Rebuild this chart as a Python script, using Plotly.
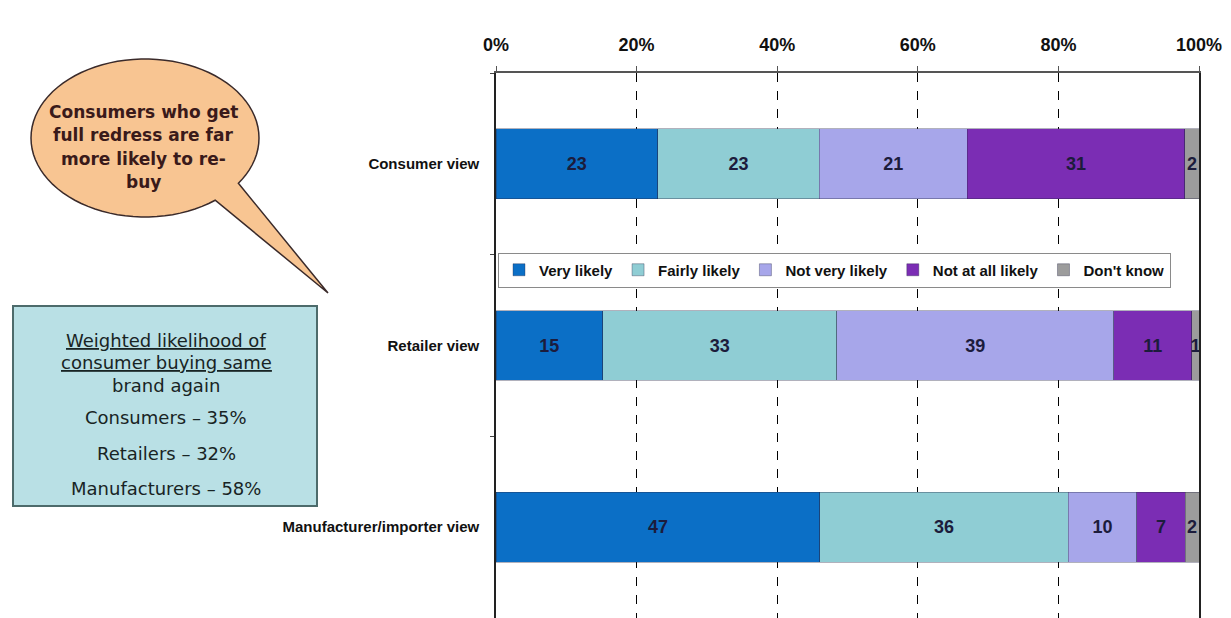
import plotly.graph_objects as go
import math

categories = ["Consumer view", "Retailer view", "Manufacturer/importer view"]
series_names = ["Very likely", "Fairly likely", "Not very likely", "Not at all likely", "Don't know"]
very_likely = [23, 15, 47]
fairly_likely = [23, 33, 36]
not_very_likely = [21, 39, 10]
not_at_all_likely = [31, 11, 7]
dont_know = [2, 1, 2]
x_ticks = [0, 20, 40, 60, 80, 100]
x_tick_labels = ["0%", "20%", "40%", "60%", "80%", "100%"]

bubble_lines = ["Consumers who get", "full redress are far", "more likely to re-", "buy"]
box_lines = ["<u>Weighted likelihood of</u>", "<u>consumer buying same</u>", "brand again",
             "Consumers \u2013 35%", "Retailers \u2013 32%", "Manufacturers \u2013 58%"]

colors = ["#0b6fc6", "#8fcdd4", "#a7a6ea", "#7b2db4", "#9c9c9c"]
series = [very_likely, fairly_likely, not_very_likely, not_at_all_likely, dont_know]

W, H = 1231, 618
L, R, T, B = 496, 32, 73, 0
PW, PH = W - L - R, H - T - B


def px(x):
    return (x - L) / PW


def py(y):
    return (H - B - y) / PH


fig = go.Figure()
for name, vals, col in zip(series_names, series, colors):
    fig.add_trace(go.Bar(
        y=categories, x=vals, name=name, orientation="h",
        marker=dict(color=col, line=dict(color="rgba(40,40,70,0.6)", width=0.6)),
        text=vals, texttemplate="%{text}", textposition="inside", insidetextanchor="middle",
        textfont=dict(family="Arial", size=18, color="#1c1c3c", weight="bold"),
        width=0.385, hoverinfo="skip",
    ))

# speech bubble path
cx, cy, rx, ry = 145, 138, 114, 79
tip = (328, 293)
a1, a2 = 35, 52
pts = []
pts.append((cx + rx * math.cos(math.radians(a1)), cy + ry * math.sin(math.radians(a1))))
pts.append(tip)
a = a2
while a <= a1 + 360:
    pts.append((cx + rx * math.cos(math.radians(a)), cy + ry * math.sin(math.radians(a))))
    a += 4
path = "M " + " L ".join(f"{px(x):.5f},{py(y):.5f}" for x, y in pts) + " Z"

shapes = [
    dict(type="path", xref="paper", yref="paper", path=path,
         fillcolor="#f8c592", line=dict(color="#3a2a2a", width=1.5), layer="above"),
    dict(type="rect", xref="paper", yref="paper", x0=px(13), x1=px(317), y0=py(306), y1=py(506),
         fillcolor="#b9e0e5", line=dict(color="#4d6b6b", width=2), layer="above"),
]

annotations = []
for i, t in enumerate(bubble_lines):
    annotations.append(dict(xref="paper", yref="paper", x=px(143), y=py(112 + 23.3 * i), text=t,
                            showarrow=False, xanchor="center", yanchor="middle",
                            font=dict(family="DejaVu Sans", size=17, color="#3a1a1a", weight="bold")))
box_y = [340, 363, 385, 417, 453, 488]
for t, yy in zip(box_lines, box_y):
    annotations.append(dict(xref="paper", yref="paper", x=px(166), y=py(yy), text=t,
                            showarrow=False, xanchor="center", yanchor="middle",
                            font=dict(family="DejaVu Sans", size=18, color="#182424")))

fig.update_layout(
    width=W, height=H, margin=dict(l=L, r=R, t=T, b=B, autoexpand=False),
    barmode="stack", barnorm="percent",
    paper_bgcolor="white", plot_bgcolor="white",
    uniformtext=dict(minsize=18, mode="show"),
    shapes=shapes, annotations=annotations,
    legend=dict(orientation="h", x=px(498), xanchor="left", y=py(270), yanchor="middle",
                bgcolor="white", bordercolor="#8a8a8a", borderwidth=1,
                font=dict(family="Arial", size=15, color="#111", weight="bold"),
                traceorder="normal", itemwidth=30),
    xaxis=dict(side="top", range=[0, 100], tickvals=x_ticks, ticktext=x_tick_labels,
               tickfont=dict(family="Arial", size=18, color="#111", weight="bold"),
               showgrid=True, gridcolor="#000", griddash="dash", gridwidth=1,
               showline=True, linecolor="#555", linewidth=2, mirror=False,
               ticks="outside", ticklen=5, tickcolor="#555", ticklabelstandoff=8,
               zeroline=False, fixedrange=True),
    yaxis=dict(type="category", categoryarray=categories, range=[2.5, -0.5],
               tickfont=dict(family="Arial", size=15, color="#111", weight="bold"),
               showline=True, linecolor="#222", linewidth=1.5, mirror=True,
               ticks="outside", ticklen=4, tickson="boundaries", tickcolor="#444",
               ticklabelstandoff=12, showgrid=False, fixedrange=True),
)

fig.write_html("out.html", config={"displayModeBar": False},
               post_script="document.body.style.margin='0';document.body.style.overflow='hidden';")
